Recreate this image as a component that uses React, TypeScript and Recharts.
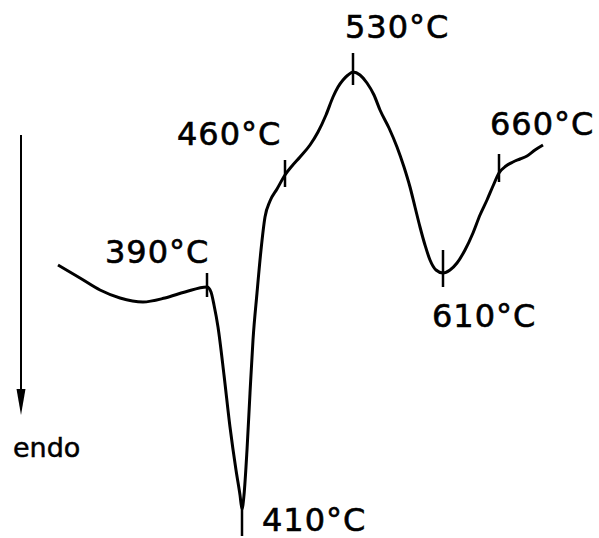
import React from "react";
import {
  ComposedChart,
  Line,
  Scatter,
  XAxis,
  YAxis,
  ReferenceLine,
  ReferenceDot,
} from "recharts";

// Trace position along the recording (chart units) and DTA deflection (chart units, up = exo)
const tracePos = [
  58, 80, 100, 120, 143, 165, 185, 207, 211, 214, 218, 224, 230, 236, 240, 242,
  244, 247, 250, 253, 257, 261, 265, 270, 277, 285, 292, 300, 310, 318, 326, 333,
  338, 343, 348, 353, 360, 367, 374, 380, 389, 397, 404, 410, 415, 420, 425, 430,
  436, 443, 450, 457, 465, 473, 480, 487, 493, 499, 506, 513, 520, 527, 535, 543,
];
const traceDefl = [
  -265, -278, -290, -298, -302, -298, -292, -287, -292, -305, -327, -375, -427, -470, -495, -509,
  -495, -450, -393, -340, -293, -250, -217, -201, -189, -175, -166, -157, -145, -132, -115, -97,
  -87, -80, -75, -72, -75, -83, -95, -110, -128, -147, -167, -187, -207, -227, -245, -260,
  -270, -273, -270, -263, -250, -233, -215, -200, -186, -173, -166, -162, -159, -156, -150, -145,
];

// Marked temperatures on the trace
const markerTemps = [390, 410, 460, 530, 610, 660];
const markerPos = [207, 242, 285, 353, 443, 499];
const markerDefl = [-287, -509, -175, -72, -273, -173];

const traceData = tracePos.map((p, i) => ({ pos: p, defl: traceDefl[i] }));
const markerData = markerTemps.map((t, i) => ({
  pos: markerPos[i],
  defl: markerDefl[i],
  temp: t,
  label: `${t}°C`,
}));

// styling: tick extents and label offsets (pixels) per marker
const markerStyle: Record<number, { up: number; down: number; dx: number; dy: number }> = {
  390: { up: 14, down: 10, dx: -102, dy: -24 },
  410: { up: 8, down: 27, dx: 20, dy: 22 },
  460: { up: 15, down: 12, dx: -108, dy: -30 },
  530: { up: 19, down: 13, dx: -8, dy: -34 },
  610: { up: 23, down: 14, dx: -11, dy: 54 },
  660: { up: 19, down: 9, dx: -9, dy: -38 },
};

const FONT = "'DejaVu Sans', sans-serif";

const MarkerShape = (props: any) => {
  const { cx, cy, payload } = props;
  const s = markerStyle[payload.temp];
  if (!s) return <g />;
  return (
    <g>
      <line x1={cx} x2={cx} y1={cy - s.up} y2={cy + s.down} stroke="#000" strokeWidth={2.5} />
      <text
        x={cx + s.dx}
        y={cy + s.dy}
        fontFamily={FONT}
        fontSize={32}
        letterSpacing={1}
        fill="#000"
        stroke="#000"
        strokeWidth={0.6}
      >
        {payload.label}
      </text>
    </g>
  );
};

const ArrowHead = (props: any) => {
  const { cx, cy } = props;
  return (
    <g>
      <path d={`M ${cx - 4.5} ${cy - 26} L ${cx + 4.5} ${cy - 26} L ${cx} ${cy} Z`} fill="#000" />
      <text
        x={cx - 8}
        y={cy + 42}
        fontFamily={FONT}
        fontSize={27}
        fill="#000"
        stroke="#000"
        strokeWidth={0.5}
      >
        endo
      </text>
    </g>
  );
};

export default function App() {
  return (
    <div style={{ position: "absolute", left: 0, top: 0, background: "#fff" }}>
      <ComposedChart
        width={599}
        height={538}
        margin={{ top: 0, right: 0, bottom: 0, left: 0 }}
      >
        <XAxis type="number" dataKey="pos" domain={[0, 599]} hide allowDataOverflow />
        <YAxis type="number" domain={[-538, 0]} hide allowDataOverflow />
        <ReferenceLine
          segment={[
            { x: 21, y: -135 },
            { x: 21, y: -395 },
          ]}
          stroke="#000"
          strokeWidth={2}
          ifOverflow="visible"
        />
        <ReferenceDot x={21} y={-415} r={0} shape={ArrowHead} ifOverflow="visible" />
        <Line
          data={traceData}
          dataKey="defl"
          type="monotone"
          stroke="#000"
          strokeWidth={3}
          dot={false}
          activeDot={false}
          isAnimationActive={false}
        />
        <Scatter
          data={markerData}
          dataKey="defl"
          shape={MarkerShape}
          isAnimationActive={false}
        />
      </ComposedChart>
    </div>
  );
}
